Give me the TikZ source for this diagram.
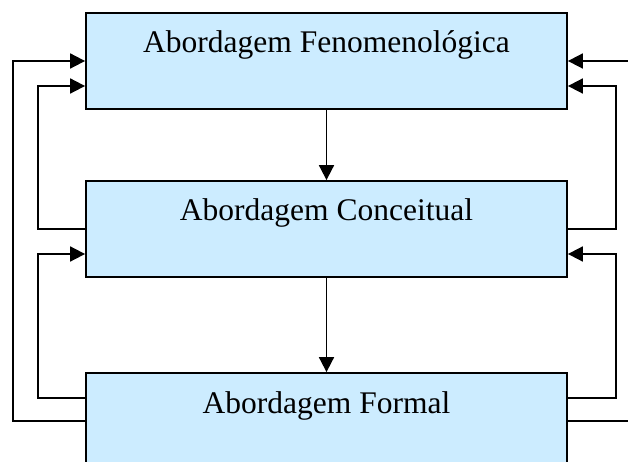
\documentclass[tikz,border=0pt]{standalone}
\usepackage{fontspec}
\setmainfont{Liberation Serif}
\usetikzlibrary{arrows.meta,positioning}
\definecolor{azulclaro}{RGB}{204,236,255}

\begin{document}
\begin{tikzpicture}[x=1pt,y=-1pt,
  abord/.style={draw,line width=1.8pt,fill=azulclaro,minimum width=481pt,
    inner ysep=0pt,text height=40pt,text depth=56pt,
    font=\fontsize{31.5}{38}\selectfont},
  seta/.style={line width=1.8pt,-{Triangle[length=15pt,width=15pt]}}]
\useasboundingbox (0,0) rectangle (628,462);
        \foreach \nome/\y/\texto in {fen/61/Abordagem Fenomenológica,
                con/229/Abordagem Conceitual,form/421/Abordagem Formal} {
                \node[abord] (\nome) at (326.5,\y) {\texto};
		}
        % setas para baixo
        \draw[seta] (fen.south) -- (con.north);
        \draw[seta] (con.south) -- (form.north);
        % retornos pela esquerda
        \draw[seta] (form.west) -- ++(-72,0) |- (fen.west);
        \draw[seta] ([yshift=23pt]form.west) -- ++(-47,0) |- ([yshift=-25pt]con.west);
        \draw[seta] (con.west) -- ++(-47,0) |- ([yshift=-25pt]fen.west);
        % retornos pela direita
        \draw[seta] (form.east) -- ++(90,0) |- (fen.east);
        \draw[seta] ([yshift=23pt]form.east) -- ++(48,0) |- ([yshift=-25pt]con.east);
        \draw[seta] (con.east) -- ++(48,0) |- ([yshift=-25pt]fen.east);
\end{tikzpicture}
\end{document}
